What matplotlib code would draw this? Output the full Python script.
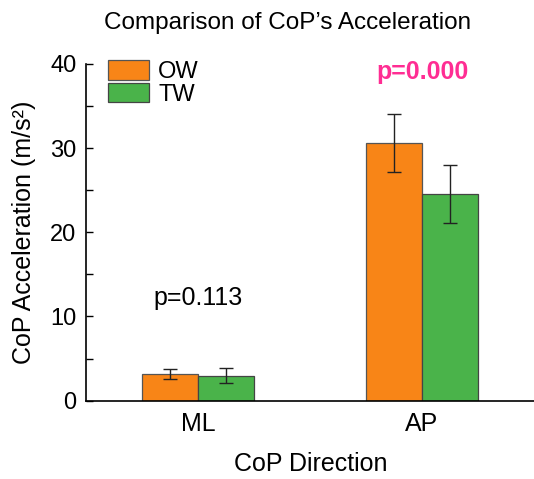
import numpy as np
import matplotlib.pyplot as plt
from matplotlib.ticker import MultipleLocator

plt.rcParams['font.family'] = ['Liberation Sans', 'DejaVu Sans']

directions = ['ML', 'AP']
ow_mean = [3.2, 30.6]
ow_err = [0.6, 3.4]
tw_mean = [2.95, 24.6]
tw_err = [0.9, 3.45]
p_labels = ['p=0.113', 'p=0.000']
p_heights = [12.2, 39.0]

fig = plt.figure(figsize=(5.34, 4.79), dpi=100)
ax = fig.add_axes([0.161, 0.1635, 0.843, 0.703])

x = np.arange(len(directions))
w = 0.25
ekw = dict(ecolor='#222222', elinewidth=1, capsize=5, capthick=1)
ax.bar(x - w / 2, ow_mean, w, yerr=ow_err, color='#f88517', edgecolor='#555555',
       linewidth=0.9, label='OW', error_kw=ekw)
ax.bar(x + w / 2, tw_mean, w, yerr=tw_err, color='#4ab34a', edgecolor='#444444',
       linewidth=0.9, label='TW', error_kw=ekw)

ax.text(x[0], p_heights[0], p_labels[0], ha='center', va='center', fontsize=18)
ax.text(x[1], p_heights[1], p_labels[1], ha='center', va='center', fontsize=18,
        fontweight='bold', color='#ff2d93')

ax.set_xlim(-0.502, 1.51)
ax.set_ylim(0, 40)
ax.set_xticks(x)
ax.set_xticklabels(directions, fontsize=18)
ax.tick_params(axis='x', length=0, pad=8)
ax.yaxis.set_major_locator(MultipleLocator(10))
ax.yaxis.set_minor_locator(MultipleLocator(5))
ax.tick_params(axis='y', which='both', direction='in', length=5, width=1,
               labelsize=17, pad=7)
for s in ['top', 'right']:
    ax.spines[s].set_visible(False)
for s in ['left', 'bottom']:
    ax.spines[s].set_linewidth(1.2)

ax.set_ylabel('CoP Acceleration (m/s²)', fontsize=18, labelpad=10)
ax.set_xlabel('CoP Direction', fontsize=18, labelpad=12)
fig.text(0.539, 0.939, 'Comparison of CoP’s Acceleration', ha='center', va='baseline',
         fontsize=17.5)

ax.legend(loc='upper left', bbox_to_anchor=(0.049, 1.012), frameon=False, fontsize=17,
          handlelength=1.75, handleheight=0.9, handletextpad=0.38, labelspacing=0.0,
          borderaxespad=0, borderpad=0)

fig.savefig('out.png')
